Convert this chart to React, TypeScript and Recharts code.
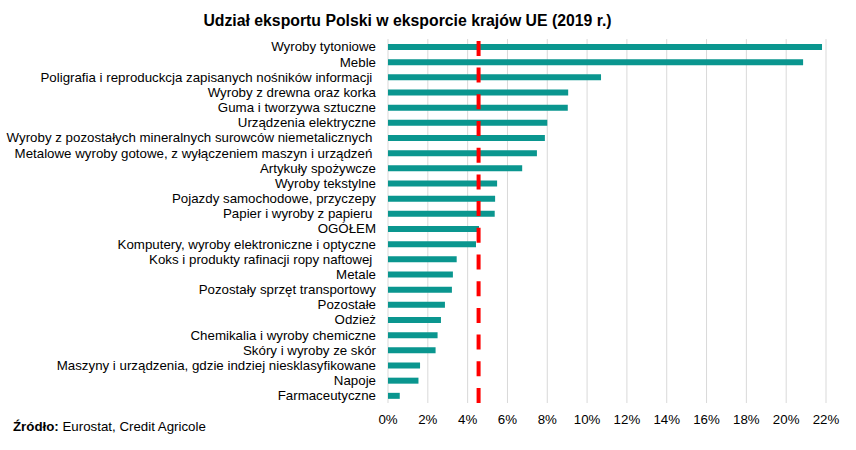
import { BarChart, Bar, XAxis, YAxis, CartesianGrid, ReferenceLine } from 'recharts'

const categories = [
  'Wyroby tytoniowe',
  'Meble',
  'Poligrafia i reproduckcja zapisanych nośników informacji\u00a0',
  'Wyroby z drewna oraz korka',
  'Guma i tworzywa sztuczne',
  'Urządzenia elektryczne',
  'Wyroby z pozostałych mineralnych surowców niemetalicznych\u00a0',
  'Metalowe wyroby gotowe, z wyłączeniem maszyn i urządzeń\u00a0',
  'Artykuły spożywcze',
  'Wyroby tekstylne',
  'Pojazdy samochodowe, przyczepy',
  'Papier i wyroby z papieru\u00a0',
  'OGÓŁEM',
  'Komputery, wyroby elektroniczne i optyczne',
  'Koks i produkty rafinacji ropy naftowej\u00a0',
  'Metale',
  'Pozostały sprzęt transportowy',
  'Pozostałe',
  'Odzież',
  'Chemikalia i wyroby chemiczne',
  'Skóry i wyroby ze skór',
  'Maszyny i urządzenia, gdzie indziej niesklasyfikowane',
  'Napoje',
  'Farmaceutyczne',
]

const shares = [
  21.8, 20.85, 10.7, 9.05, 9.03, 8.0, 7.88, 7.48, 6.74, 5.48, 5.38, 5.36,
  4.57, 4.42, 3.45, 3.26, 3.21, 2.86, 2.66, 2.49, 2.39, 1.61, 1.53, 0.59,
]

const xTicks = [0, 2, 4, 6, 8, 10, 12, 14, 16, 18, 20, 22]
const averageShare = 4.55

const data = categories.map((name, i) => ({ name, value: shares[i] }))

const font = '"Liberation Sans", Arial, sans-serif'

// plain one-line label, recharts would wrap the long ones
function CategoryTick({ x, y, payload }: { x?: number; y?: number; payload?: { value: string } }) {
  return (
    <text x={x} y={y} dy="0.36em" textAnchor="end" fill="#000" fontSize={13.3} fontFamily={font} style={{ whiteSpace: 'pre' }}>
      {payload?.value}
    </text>
  )
}

export default function App() {
  return (
    <div style={{ position: 'absolute', left: 0, top: 0, width: 856, height: 450, background: '#fff', fontFamily: font }}>
      <div style={{ position: 'absolute', left: 0, width: 815, top: 12, textAlign: 'center', fontSize: 15.8, fontWeight: 'bold', color: '#000' }}>
        Udział eksportu Polski w eksporcie krajów UE (2019 r.)
      </div>
      <BarChart
        width={856}
        height={450}
        data={data}
        layout="vertical"
        barSize={6}
        margin={{ top: 39, right: 30, left: 0, bottom: 17 }}
      >
        <CartesianGrid horizontal={false} stroke="#d9d9d9" strokeWidth={1} />
        <XAxis
          type="number"
          domain={[0, 22]}
          ticks={xTicks}
          tickFormatter={(v: number) => `${v}%`}
          axisLine={false}
          tickLine={false}
          height={30}
          tickMargin={6}
          tick={{ fill: '#000', fontSize: 13.3, fontFamily: font }}
          interval={0}
        />
        <YAxis
          type="category"
          dataKey="name"
          width={388}
          axisLine={false}
          tickLine={false}
          tickSize={0}
          tickMargin={12}
          interval={0}
          tick={<CategoryTick />}
        />
        <Bar dataKey="value" fill="#0a968f" isAnimationActive={false} />
        <ReferenceLine x={averageShare} stroke="#ff0000" strokeWidth={4} strokeDasharray="15 11.7" />
      </BarChart>
      <div style={{ position: 'absolute', left: 13, top: 419, fontSize: 13.3, color: '#000' }}>
        <b>Źródło:</b> Eurostat, Credit Agricole
      </div>
    </div>
  )
}
